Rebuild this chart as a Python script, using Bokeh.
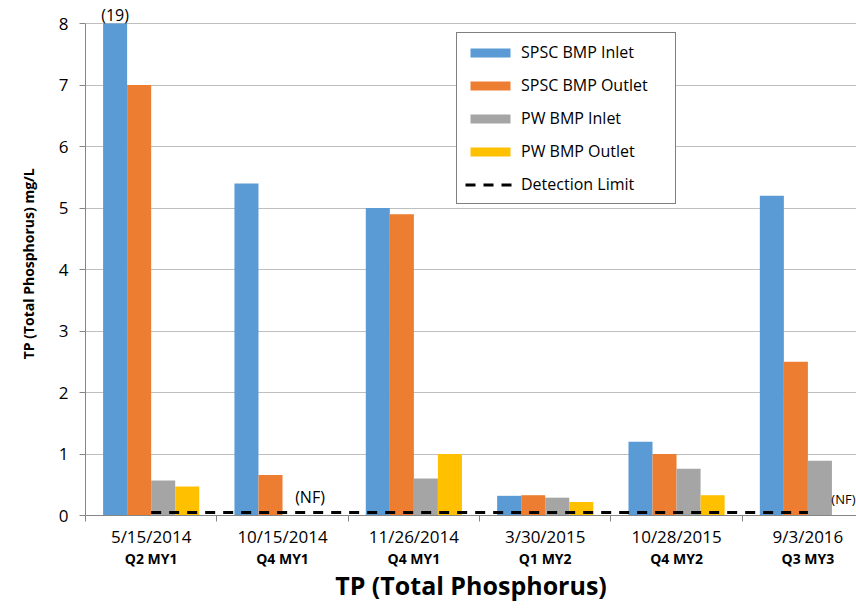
import numpy as np
from bokeh.plotting import figure
from bokeh.models import (Range1d, LinearAxis, FixedTicker, Legend, LegendItem,
                          Label, ColumnDataSource)
from bokeh.embed import file_html
from bokeh.resources import INLINE

# ---------------- data ----------------
dates = ["5/15/2014", "10/15/2014", "11/26/2014", "3/30/2015", "10/28/2015", "9/3/2016"]
quarters = ["Q2 MY1", "Q4 MY1", "Q4 MY1", "Q1 MY2", "Q4 MY2", "Q3 MY3"]
series_names = ["SPSC BMP Inlet", "SPSC BMP Outlet", "PW BMP Inlet", "PW BMP Outlet"]
spsc_inlet = [19.0, 5.4, 5.0, 0.32, 1.2, 5.2]
spsc_outlet = [7.0, 0.66, 4.9, 0.33, 1.0, 2.5]
pw_inlet = [0.57, 0.0, 0.60, 0.29, 0.76, 0.89]
pw_outlet = [0.47, 0.0, 1.0, 0.22, 0.33, 0.0]
detection_limit = 0.05
y_ticks = [0, 1, 2, 3, 4, 5, 6, 7, 8]
y_max = 8
nf_groups = [1, 5]          # groups with "(NF)" annotation
nf_text = "(NF)"
colors = ["#5B9BD5", "#ED7D31", "#A5A5A5", "#FFC000"]

FONT = "Open Sans"
n = len(dates)
centers = np.arange(n) + 0.5
bar_w = 0.183
offsets = [-1.5 * bar_w, -0.5 * bar_w, 0.5 * bar_w, 1.5 * bar_w]
x_end = 5.87
px_per_unit = 61.5
headroom = 15 / px_per_unit   # room above the axis maximum for the "(19)" note

p = figure(width=856, height=608, output_backend="svg", toolbar_location=None,
           x_range=Range1d(0, x_end), y_range=Range1d(0, y_max + headroom),
           min_border_left=85, min_border_right=0, min_border_top=8,
           min_border_bottom=93, x_axis_location=None, y_axis_location=None)
p.outline_line_color = None
p.xgrid.visible = False
p.ygrid.ticker = FixedTicker(ticks=y_ticks)
p.ygrid.grid_line_color = "#BFBFBF"

renderers = []
all_series = [spsc_inlet, spsc_outlet, pw_inlet, pw_outlet]
for vals, off, col in zip(all_series, offsets, colors):
    # values beyond the axis maximum are drawn cut at the maximum (as in the original)
    src = ColumnDataSource(dict(x=centers + off, top=np.minimum(vals, y_max)))
    r = p.vbar(x="x", top="top", width=bar_w, source=src, fill_color=col,
               line_color=None)
    renderers.append(r)

dl = p.line(x=centers, y=[detection_limit] * n, line_color="black",
            line_width=3, line_dash="10 8")

# y axis
yax = LinearAxis(ticker=FixedTicker(ticks=y_ticks), bounds=(0, y_max),
                 axis_label="TP  (Total Phosphorus) mg/L")
yax.axis_line_color = "#868686"
yax.major_tick_line_color = "#868686"
yax.major_tick_out = 6
yax.major_tick_in = 0
yax.minor_tick_line_color = None
yax.major_label_text_font = FONT
yax.major_label_text_font_size = "17px"
yax.major_label_text_color = "black"
yax.major_label_standoff = 11
yax.axis_label_text_font = FONT
yax.axis_label_text_font_style = "bold"
yax.axis_label_text_font_size = "14px"
yax.axis_label_text_color = "black"
yax.axis_label_standoff = 18
p.add_layout(yax, "left")

# x axis: dates, category boundaries as minor ticks
xax = LinearAxis(ticker=FixedTicker(ticks=list(centers),
                                    minor_ticks=list(range(n + 1))))
xax.major_label_overrides = {float(c): d for c, d in zip(centers, dates)}
xax.axis_line_color = "#868686"
xax.major_tick_line_color = None
xax.major_tick_out = 6
xax.major_tick_in = 0
xax.minor_tick_line_color = "#868686"
xax.minor_tick_out = 6
xax.minor_tick_in = 0
xax.major_label_text_font = FONT
xax.major_label_text_font_size = "17px"
xax.major_label_text_color = "black"
xax.major_label_standoff = 3
p.add_layout(xax, "below")

# second x axis: quarter labels + title
qax = LinearAxis(ticker=FixedTicker(ticks=list(centers), minor_ticks=[]),
                 axis_label="TP (Total Phosphorus)")
qax.major_label_overrides = {float(c): q for c, q in zip(centers, quarters)}
qax.axis_line_color = None
qax.major_tick_line_color = None
qax.minor_tick_line_color = None
qax.major_tick_out = 0
qax.major_tick_in = 0
qax.major_label_standoff = -2
qax.major_label_text_font = FONT
qax.major_label_text_font_style = "bold"
qax.major_label_text_font_size = "14px"
qax.major_label_text_color = "black"
qax.axis_label_text_font = FONT
qax.axis_label_text_font_style = "bold"
qax.axis_label_text_font_size = "25px"
qax.axis_label_text_color = "black"
qax.axis_label_standoff = -3
p.add_layout(qax, "below")

# annotations
p.add_layout(Label(x=centers[0] + offsets[0], y=y_max, text="(%d)" % spsc_inlet[0],
                   text_align="center", text_baseline="bottom", text_color="black",
                   text_font=FONT, text_font_size="16px", y_offset=-2))
for g in nf_groups:
    if g < n - 1:
        p.add_layout(Label(x=centers[g] + 0.096, y=detection_limit, text=nf_text,
                           text_align="left", text_baseline="bottom", y_offset=4,
                           text_color="black", text_font=FONT, text_font_size="16px"))
    else:
        p.add_layout(Label(x=x_end, y=detection_limit, text=nf_text,
                           text_align="right", text_baseline="bottom", y_offset=4,
                           x_offset=-1, text_color="black", text_font=FONT,
                           text_font_size="13px"))

legend = Legend(items=[LegendItem(label=nm, renderers=[r])
                       for nm, r in zip(series_names, renderers)] +
                      [LegendItem(label="Detection Limit", renderers=[dl])],
                location=(371, 311))
legend.glyph_width = 50
legend.glyph_height = 11
legend.label_height = 20
legend.label_width = 146
legend.spacing = 11
legend.padding = 8
legend.label_standoff = 6
legend.label_text_font = FONT
legend.label_text_font_size = "16px"
legend.label_text_color = "black"
legend.border_line_color = "black"
legend.border_line_width = 1
legend.background_fill_alpha = 1
p.add_layout(legend, "center")

open("out.html", "w").write(file_html(p, INLINE))
